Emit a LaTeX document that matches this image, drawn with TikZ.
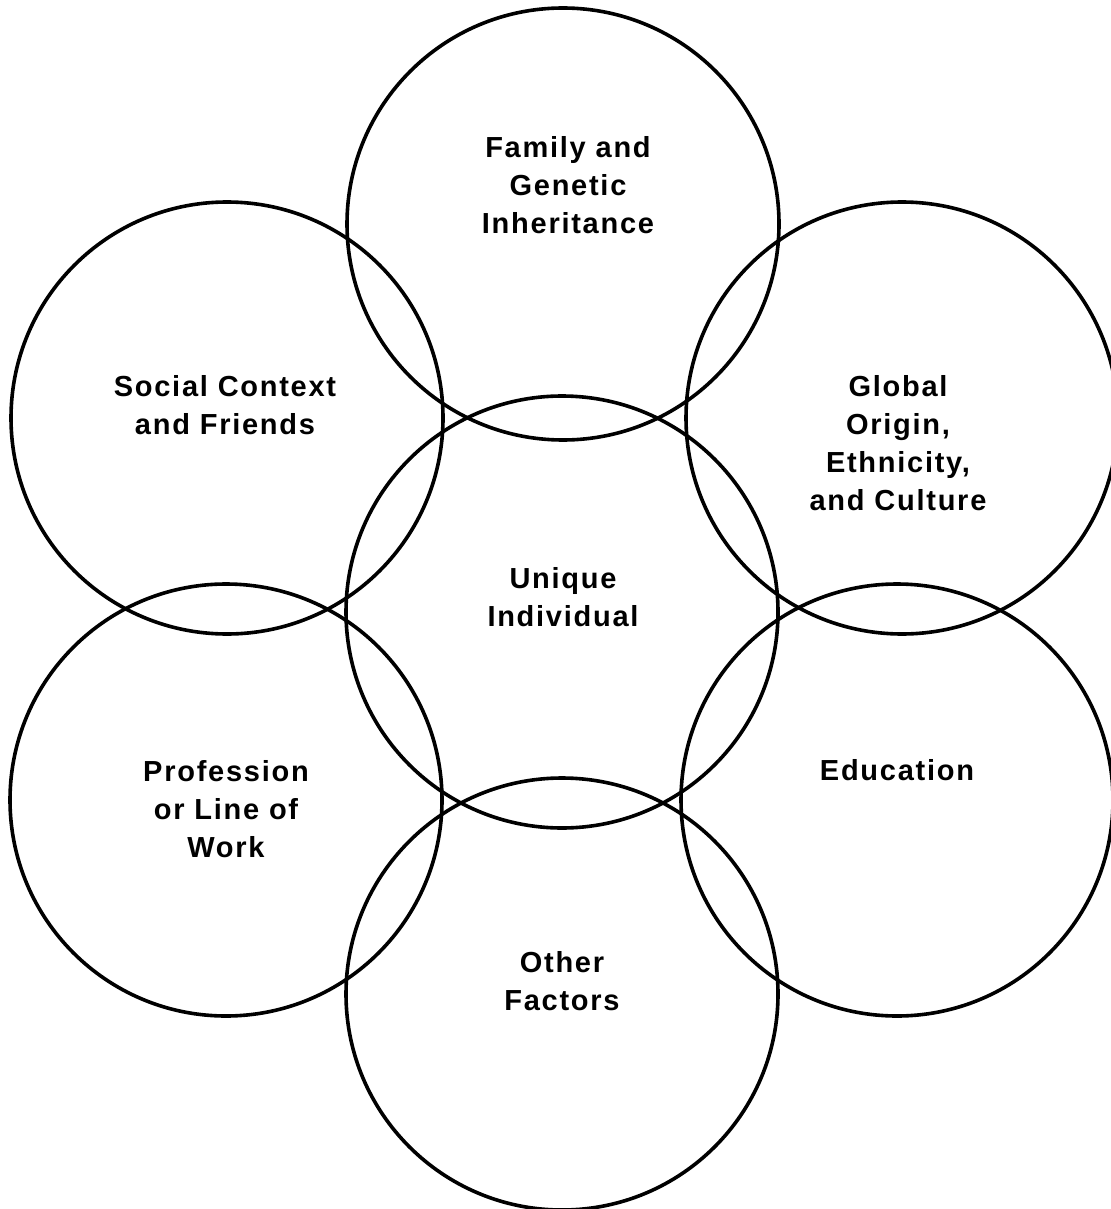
\documentclass[tikz,border=0pt]{standalone}
\usepackage{fontspec}
\setmainfont{Liberation Sans}[LetterSpace=6]
\usepackage{tikz}

\begin{document}
\begin{tikzpicture}[x=0.5pt,y=-0.5pt,
  factor/.style={circle,draw,line width=1.8pt,minimum size=216pt,inner sep=0pt},
  every node/.style={align=center,font=\fontsize{14.5}{19}\selectfont\bfseries}]
\useasboundingbox (0,0) rectangle (1110,1209);
% the seven circles
\node[factor] (family) at (563,224) {};
\node[factor] (social) at (227,418) {};
\node[factor] (global) at (902,418) {};
\node[factor] (unique) at (562,612) {};
\node[factor] (work) at (226,800) {};
\node[factor] (educ) at (897,800) {};
\node[factor] (other) at (562,994) {};
% their labels
\node (familyt) at (568,185) {Family and\\Genetic\\Inheritance};
\node (socialt) at (225,405) {Social Context\\and Friends};
\node (globalt) at (898,443) {Global\\Origin,\\Ethnicity,\\and Culture};
\node (uniquet) at (563,597) {Unique\\Individual};
\node (workt) at (226,809) {Profession\\or Line of\\Work};
\node (eductt) at (897,770) {Education};
\node (othert) at (562,981) {Other\\Factors};
\end{tikzpicture}
\end{document}
